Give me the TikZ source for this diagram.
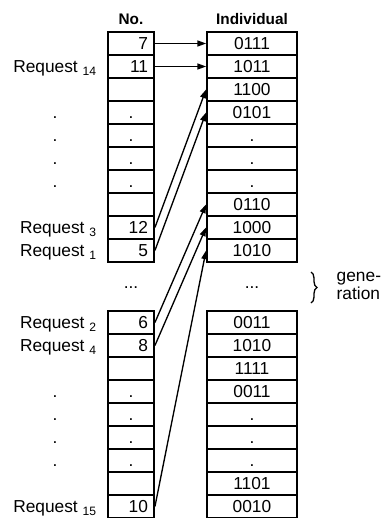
\documentclass[tikz,border=0pt]{standalone}
\usepackage{fontspec}
\setmainfont{Liberation Sans}
\usetikzlibrary{arrows.meta,positioning,decorations.pathreplacing}

\begin{document}
\begin{tikzpicture}[x=0.75pt,y=-0.75pt,
  every node/.style={font=\fontsize{13}{14}\selectfont},
  cell/.style={draw,line width=1.4pt,minimum height=17.25pt,inner ysep=0pt,text height=9.3pt,text depth=0pt},
  nocell/.style={cell,inner xsep=4.5pt,text width=25.5pt,align=right},
  indcell/.style={cell,minimum width=67.5pt},
  lab/.style={anchor=east,inner sep=0pt,text height=9.3pt,text depth=0pt},
  dotlab/.style={lab,anchor=center},
  head/.style={font=\bfseries\fontsize{11.5}{12}\selectfont},
  arr/.style={-{Triangle[length=6.5pt,width=4.5pt]},line width=1pt}]
\useasboundingbox (0,0) rectangle (387,518);

% upper block
\foreach \t [count=\i] in {7,11,{},\hfill.\hfill\mbox{},\hfill.\hfill\mbox{},\hfill.\hfill\mbox{},\hfill.\hfill\mbox{},{},12,5}
  \node[nocell] (l\i) at (131,20.5+23*\i) {\t};
\foreach \t [count=\i] in {0111,1011,1100,0101,.,.,.,0110,1000,1010}
  \node[indcell] (r\i) at (252,20.5+23*\i) {\t};

% lower block
\foreach \t [count=\i] in {6,8,{},\hfill.\hfill\mbox{},\hfill.\hfill\mbox{},\hfill.\hfill\mbox{},\hfill.\hfill\mbox{},{},10}
  \node[nocell] (lb\i) at (131,299.5+23*\i) {\t};
\foreach \t [count=\i] in {0011,1010,1111,0011,.,.,.,1101,0010}
  \node[indcell] (rb\i) at (252,299.5+23*\i) {\t};

\node[head,above=1pt of l1] (no) {No.};
\node[head,above=1pt of r1] (ind) {Individual};

\node (gapl) at (131,288) {...};
\node (gapr) at (252,288) {...};

% requests
\node[lab,left=7.5pt of l2] (req14) {Request \textsubscript{14}};
\node[lab,left=7.5pt of l9] (req3) {Request \textsubscript{3}};
\node[lab,left=7.5pt of l10] (req1) {Request \textsubscript{1}};
\node[lab,left=7.5pt of lb1] (req2) {Request \textsubscript{2}};
\node[lab,left=7.5pt of lb2] (req4) {Request \textsubscript{4}};
\node[lab,left=7.5pt of lb9] (req15) {Request \textsubscript{15}};
\foreach \i in {4,...,7} {
  \node[dotlab] (d\i) at (55,20.5+23*\i) {.};
  \node[dotlab] (db\i) at (55,299.5+23*\i) {.};
}

\draw[arr] (l1.east) -- (r1.west);
\draw[arr] (l2.east) -- (r2.west);
\draw[arr] (l9.east) -- (r3.west);
\draw[arr] (l10.east) -- (r4.west);
\draw[arr] (lb1.east) -- (r8.west);
\draw[arr] (lb2.east) -- (r9.west);
\draw[arr] (lb9.east) -- (r10.west);

\draw[line width=1pt,decorate,decoration={brace,amplitude=4.5pt}] (311,272) -- (311,303);
\node[anchor=west,align=left,font=\fontsize{13}{13.5}\selectfont] (gen) at (332,286) {gene-\\ration};
\end{tikzpicture}
\end{document}
